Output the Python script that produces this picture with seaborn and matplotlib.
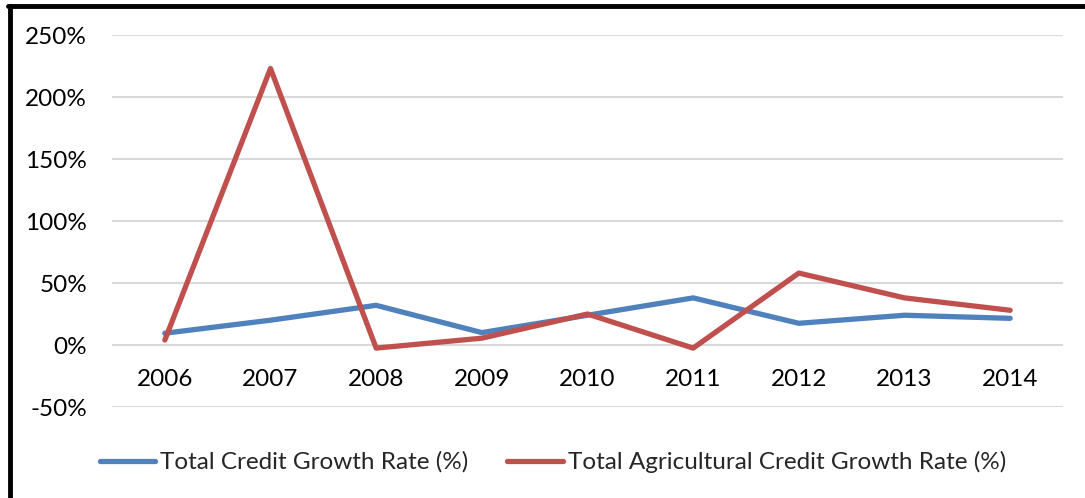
import matplotlib
matplotlib.use("Agg")
import matplotlib.pyplot as plt
from matplotlib.ticker import FuncFormatter, MultipleLocator
import pandas as pd
import seaborn as sns

years = ["2006", "2007", "2008", "2009", "2010", "2011", "2012", "2013", "2014"]
total_credit = [9.5, 20, 32, 10, 24, 38, 17.5, 24, 21.5]
agri_credit = [4, 223, -2.5, 5.5, 25, -2.5, 58, 38, 28]

series_names = ["Total Credit Growth Rate (%)", "Total Agricultural Credit Growth Rate (%)"]
colors = ["#4F81BD", "#C0504D"]

df = pd.DataFrame({
    "Year": years * 2,
    "Rate": total_credit + agri_credit,
    "Series": [series_names[0]] * len(years) + [series_names[1]] * len(years),
})

sns.set_theme(style="white")
plt.rcParams["font.family"] = ["Lato", "DejaVu Sans"]

W, H = 1085, 498
fig = plt.figure(figsize=(W / 100, H / 100), dpi=100)
ax = fig.add_axes([112 / W, 1 - 407 / H, (1063 - 112) / W, (407 - 35) / H])

sns.lineplot(data=df, x="Year", y="Rate", hue="Series", palette=colors,
             linewidth=3.8, sort=False, ax=ax, legend=False)

ax.set_xlim(-0.5, len(years) - 0.5)
ax.set_ylim(-50, 250)
ax.yaxis.set_major_locator(MultipleLocator(50))
ax.yaxis.set_major_formatter(FuncFormatter(lambda v, _: f"{v:.0f}%"))
ax.grid(axis="y", color="#D9D9D9", linewidth=1.5)
ax.set_axisbelow(True)
for s in ax.spines.values():
    s.set_visible(False)
ax.spines["bottom"].set_position(("data", 0))
ax.tick_params(axis="both", length=0, labelsize=17.5, colors="black")
ax.tick_params(axis="x", pad=17)
ax.tick_params(axis="y", pad=18)
ax.set_xlabel("")
ax.set_ylabel("")

handles = [plt.Line2D([], [], color=c, linewidth=3.8) for c in colors]
fig.legend(handles, series_names, loc="center", bbox_to_anchor=(553 / W, 1 - 462 / H),
           ncol=2, frameon=False, fontsize=17.5, handlelength=2.3, handletextpad=0.2,
           columnspacing=1.6)

# frame edges along the top and left
fig.add_artist(plt.Line2D([10 / W, 10 / W], [0, 1 - 6 / H], color="black", linewidth=3.5,
                          transform=fig.transFigure))
fig.add_artist(plt.Line2D([8 / W, 1], [1 - 6 / H, 1 - 6 / H], color="black", linewidth=3.5,
                          transform=fig.transFigure))

fig.savefig("out.png", dpi=100)
